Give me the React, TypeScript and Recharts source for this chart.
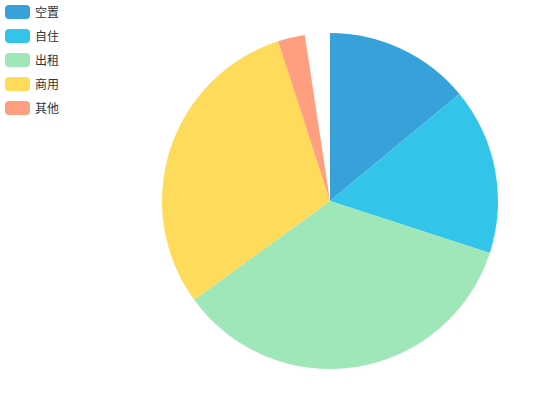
import React from "react";
import { PieChart, Pie, Cell, Legend } from "recharts";

const categories = ["空置", "自住", "出租", "商用", "其他"];
const values = [14, 16, 35, 30, 2.6];
const gapValue = 2.4;
const colors = ["#37A2DA", "#32C5E9", "#9FE6B8", "#FFDB5C", "#FF9F7F"];

const data = [
  ...categories.map((name, i) => ({ name, value: values[i], fill: colors[i] })),
  { name: "", value: gapValue, fill: "transparent" },
];

const renderLegend = () => (
  <div style={{ position: "absolute", left: 5, top: 5 }}>
    {categories.map((name, i) => (
      <div
        key={name}
        style={{ display: "flex", alignItems: "center", height: 14, marginBottom: 10 }}
      >
        <div
          style={{
            width: 25,
            height: 14,
            borderRadius: 4,
            background: colors[i],
          }}
        />
        <span
          style={{
            marginLeft: 5,
            fontSize: 12,
            color: "#333",
            fontFamily: "'Noto Sans CJK SC', sans-serif",
            lineHeight: "14px",
          }}
        >
          {name}
        </span>
      </div>
    ))}
  </div>
);

export default function App() {
  return (
    <div style={{ position: "fixed", left: 0, top: 0, width: 550, height: 420, background: "#fff" }}>
      <PieChart width={550} height={420} margin={{ top: 0, right: 0, bottom: 0, left: 0 }}>
        <Legend
          content={renderLegend}
          wrapperStyle={{ position: "absolute", left: 0, top: 0, width: 100, height: 130 }}
        />
        <Pie
          data={data}
          dataKey="value"
          nameKey="name"
          cx={330}
          cy={201}
          outerRadius={168}
          innerRadius={0}
          startAngle={90}
          endAngle={-270}
          stroke="none"
          isAnimationActive={false}
          legendType="none"
        >
          {data.map((d, i) => (
            <Cell key={i} fill={d.fill} stroke="none" />
          ))}
        </Pie>
      </PieChart>
    </div>
  );
}
